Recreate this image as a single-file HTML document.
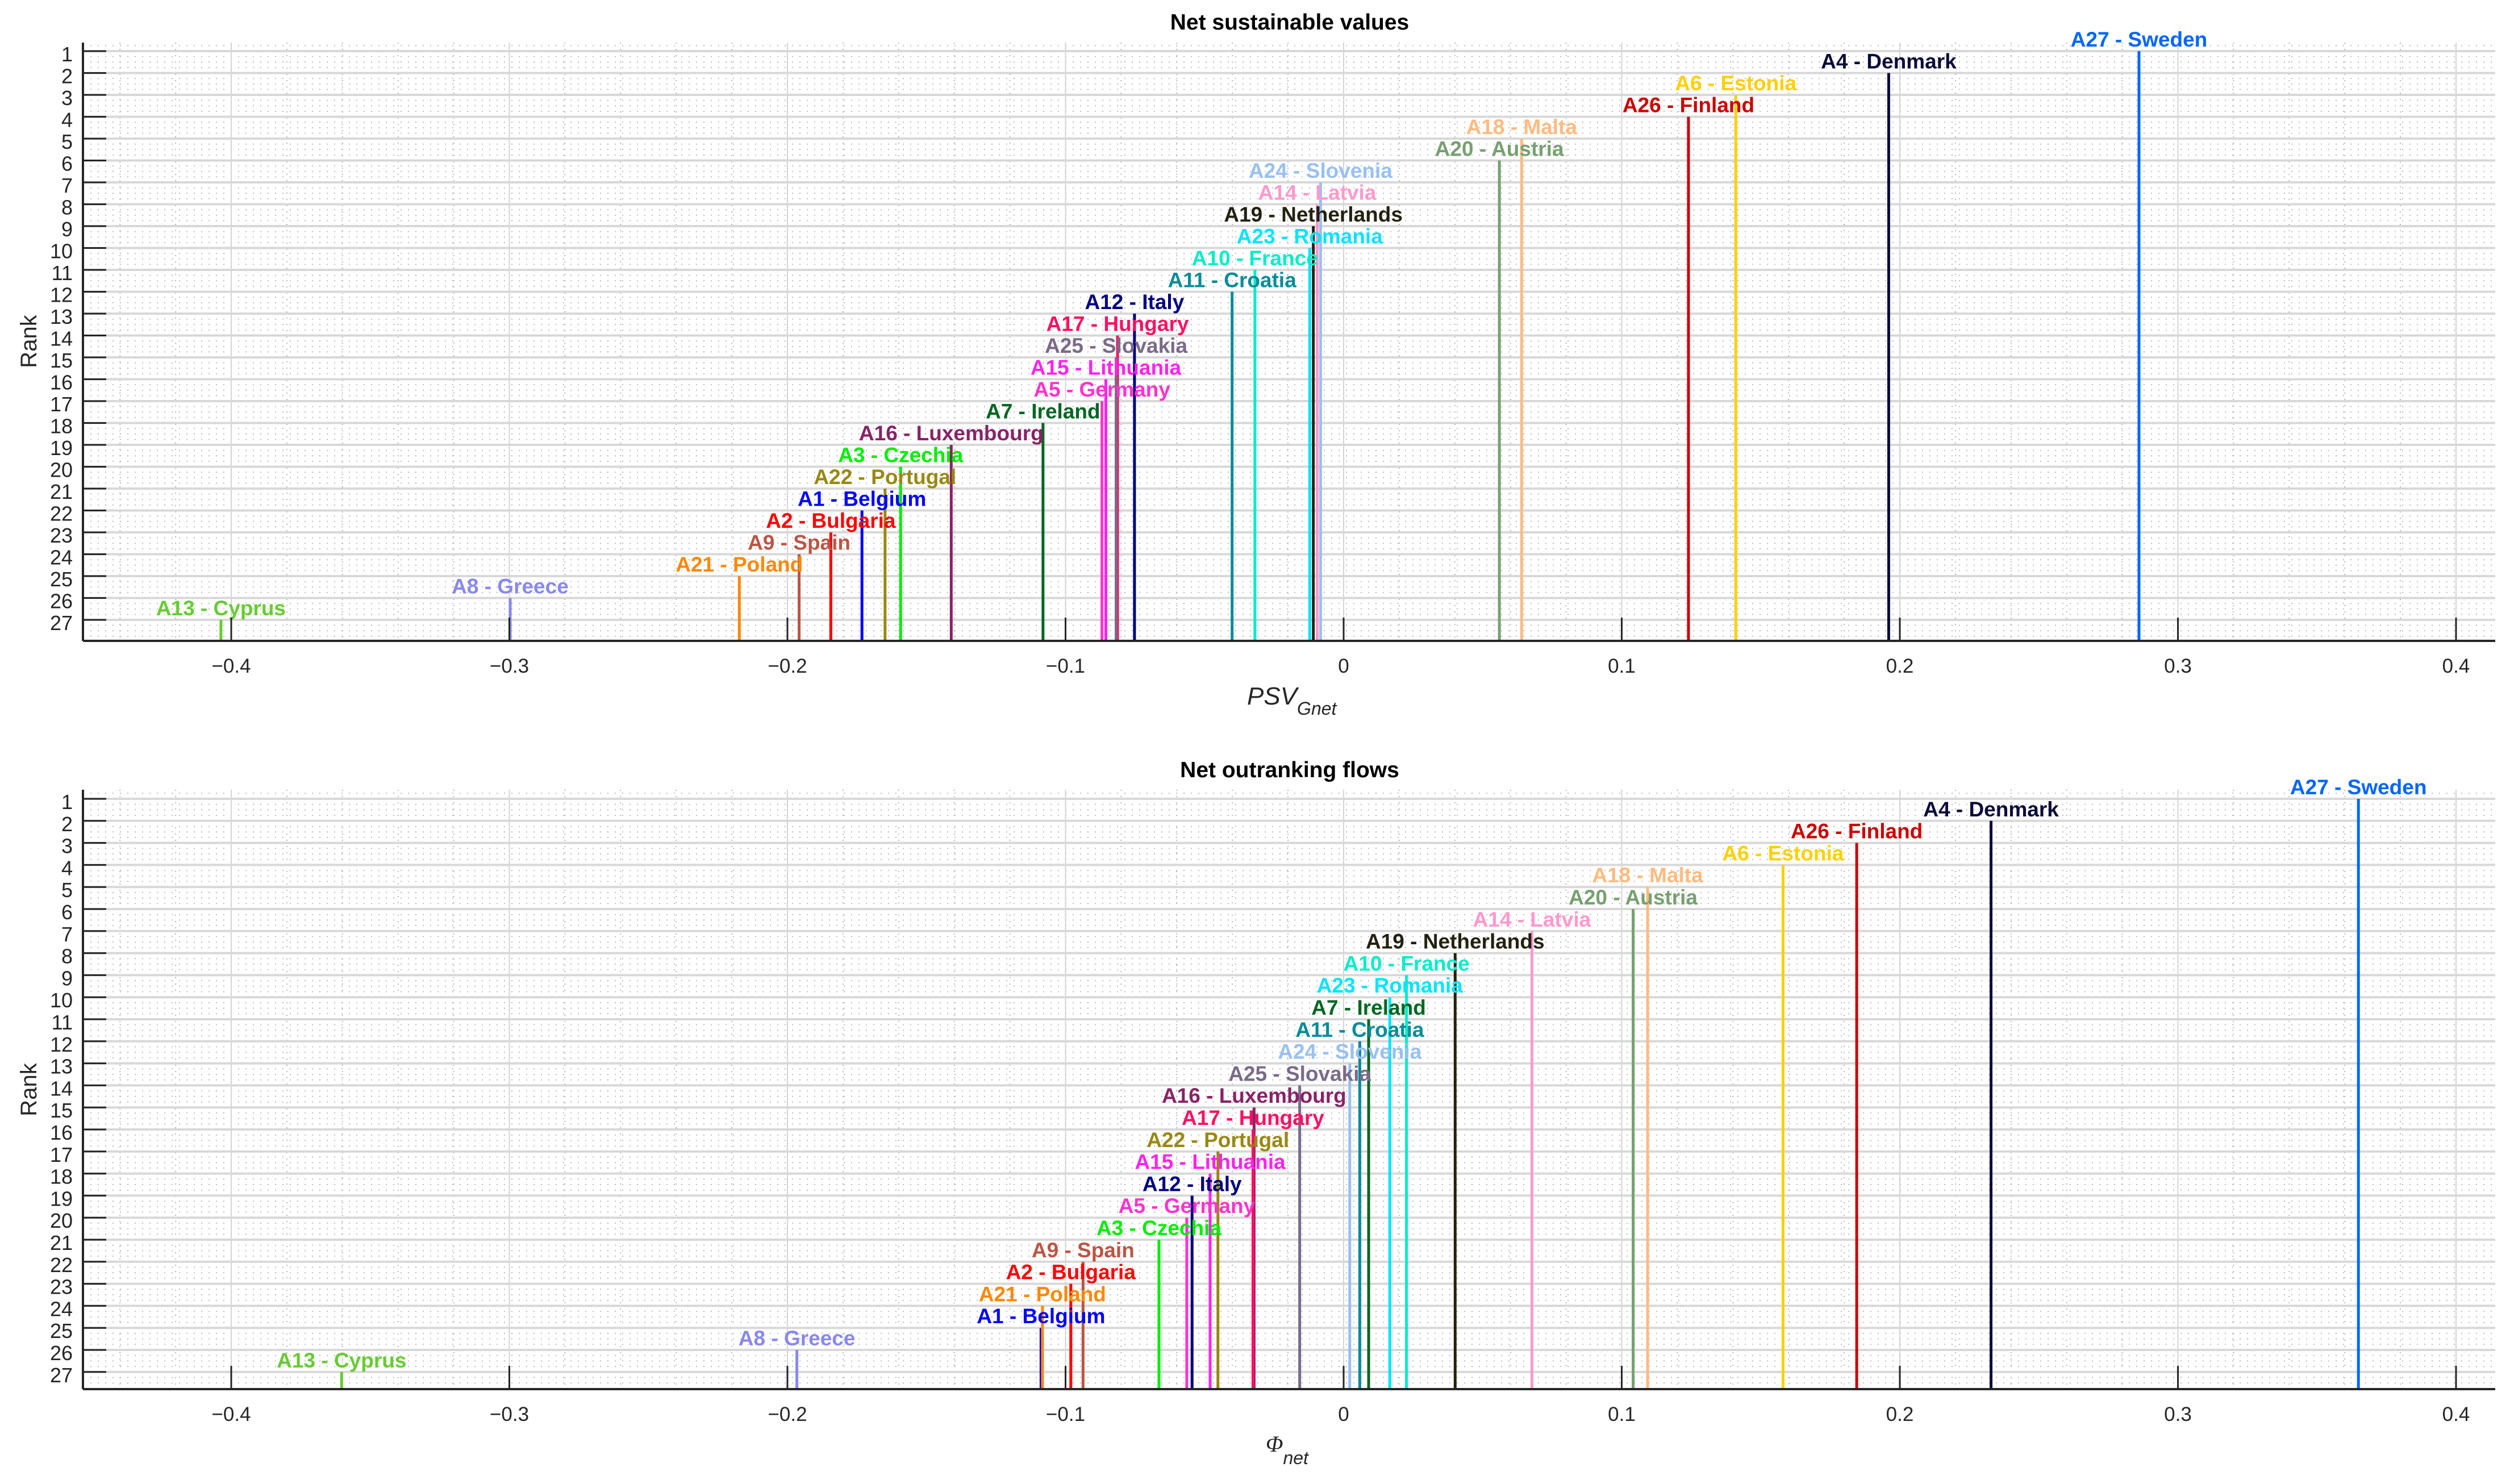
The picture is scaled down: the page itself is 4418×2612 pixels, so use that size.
<!DOCTYPE html>
<html><head><meta charset="utf-8"><style>
html,body{margin:0;padding:0;background:#fff;}
svg{display:block;font-family:"Liberation Sans",Arial,sans-serif;}
</style></head><body>
<svg id="chart" width="4418" height="2612" viewBox="0 0 4418 2612" xmlns="http://www.w3.org/2000/svg">
<rect x="0" y="0" width="4418" height="2612" fill="#ffffff"/>
<text x="2270" y="52" text-anchor="middle" font-size="39" font-weight="bold" fill="#000">Net sustainable values</text>
<text x="2270" y="1368" text-anchor="middle" font-size="39" font-weight="bold" fill="#000">Net outranking flows</text>
<text x="2195" y="1240" font-size="44" font-style="italic" fill="#262626">PSV<tspan font-size="32" dy="18">Gnet</tspan></text>
<text x="2228" y="2555" font-size="40" font-style="italic" fill="#262626" font-family="Liberation Serif, serif">Φ<tspan font-size="32" dy="22" font-family="Liberation Sans, sans-serif">net</tspan></text>
<text transform="translate(64,601) rotate(-90)" text-anchor="middle" font-size="40" fill="#262626">Rank</text>
<text transform="translate(64,1918) rotate(-90)" text-anchor="middle" font-size="40" fill="#262626">Rank</text>
</svg>
<script>
// ---- data ----
const xTicks = [-0.4, -0.3, -0.2, -0.1, 0, 0.1, 0.2, 0.3, 0.4];
const xTickLabels = ['\u22120.4', '\u22120.3', '\u22120.2', '\u22120.1', '0', '0.1', '0.2', '0.3', '0.4'];
const rankTicks = [1,2,3,4,5,6,7,8,9,10,11,12,13,14,15,16,17,18,19,20,21,22,23,24,25,26,27];

const topNames = ['A27 - Sweden','A4 - Denmark','A6 - Estonia','A26 - Finland','A18 - Malta','A20 - Austria','A24 - Slovenia','A14 - Latvia','A19 - Netherlands','A23 - Romania','A10 - France','A11 - Croatia','A12 - Italy','A17 - Hungary','A25 - Slovakia','A15 - Lithuania','A5 - Germany','A7 - Ireland','A16 - Luxembourg','A3 - Czechia','A22 - Portugal','A1 - Belgium','A2 - Bulgaria','A9 - Spain','A21 - Poland','A8 - Greece','A13 - Cyprus'];
const topRanks = [1,2,3,4,5,6,7,8,9,10,11,12,13,14,15,16,17,18,19,20,21,22,23,24,25,26,27];
const topValues = [0.286,0.196,0.141,0.124,0.064,0.056,-0.0083,-0.0095,-0.0109,-0.0122,-0.0319,-0.0401,-0.0752,-0.0813,-0.0818,-0.0855,-0.0869,-0.1081,-0.1411,-0.1593,-0.1649,-0.1732,-0.1844,-0.1958,-0.2173,-0.2997,-0.4037];

const botNames = ['A27 - Sweden','A4 - Denmark','A26 - Finland','A6 - Estonia','A18 - Malta','A20 - Austria','A14 - Latvia','A19 - Netherlands','A10 - France','A23 - Romania','A7 - Ireland','A11 - Croatia','A24 - Slovenia','A25 - Slovakia','A16 - Luxembourg','A17 - Hungary','A22 - Portugal','A15 - Lithuania','A12 - Italy','A5 - Germany','A3 - Czechia','A9 - Spain','A2 - Bulgaria','A21 - Poland','A1 - Belgium','A8 - Greece','A13 - Cyprus'];
const botRanks = [1,2,3,4,5,6,7,8,9,10,11,12,13,14,15,16,17,18,19,20,21,22,23,24,25,26,27];
const botValues = [0.3649,0.2328,0.1845,0.158,0.1093,0.1041,0.0677,0.0401,0.0226,0.0166,0.009,0.0058,0.0022,-0.0158,-0.0322,-0.0326,-0.0452,-0.048,-0.0545,-0.0564,-0.0664,-0.0937,-0.0981,-0.1083,-0.1088,-0.1966,-0.3603];

const colorMap = {
 'A27':'#0066ff','A4':'#0b0b3b','A6':'#ffd000','A26':'#cc0000','A18':'#ffbb80','A20':'#77a070',
 'A24':'#99c0f0','A14':'#ff99cc','A19':'#22220f','A23':'#00e5ff','A10':'#00eec8','A11':'#008c99',
 'A12':'#000080','A17':'#ff1060','A25':'#7a6a88','A15':'#ff22ee','A5':'#ff33cc','A7':'#006622',
 'A16':'#882266','A3':'#00ee00','A22':'#998811','A1':'#0000ff','A2':'#ff0000','A9':'#bb5544',
 'A21':'#ff8800','A8':'#8888ee','A13':'#66cc33'};

// ---- layout ----
const NS = 'http://www.w3.org/2000/svg';
const svg = document.getElementById('chart');
const X0 = 2365, XU = 4895, LEFT = 146, RIGHT = 4392;
function xs(v){ return X0 + v * XU; }
function mk(tag, attrs, parent){
  const e = document.createElementNS(NS, tag);
  for (const k in attrs) e.setAttribute(k, attrs[k]);
  (parent || svg).appendChild(e);
  return e;
}
function aNum(n){ return parseInt(n.split(' ')[0].slice(1), 10); }

function drawPanel(prefix, top, bottom, y1, step, names, ranks, values){
  const ys = r => y1 + (r - 1) * step;
  const g = mk('g', {});
  
  
  const grid = mk('g', {}, g);
  
  
  for (let i = -46; i <= 42; i += 2) {
    if (i % 10 === 0) continue;
    const x = xs(i / 100);
    if (x < LEFT || x > RIGHT) continue;
    const l = mk('line', {x1:x, x2:x, y1:top, y2:bottom, stroke:'#b8b8b8', 'stroke-width':2, 'stroke-dasharray':'2 9'}, grid);
    
    
  }
  for (let r = 0.5; r <= 28; r += 0.25) {
    if (Math.abs(r - Math.round(r)) < 0.01) continue;
    const y = ys(r);
    if (y < top || y > bottom) continue;
    const l = mk('line', {x1:LEFT, x2:RIGHT, y1:y, y2:y, stroke:'#bcbcbc', 'stroke-width':2, 'stroke-dasharray':'2 11'}, grid);
    
    
  }
  xTicks.forEach(t => {
    const l = mk('line', {x1:xs(t), x2:xs(t), y1:top, y2:bottom, stroke:'#d4d4d4', 'stroke-width':2}, grid);
    
    
  });
  rankTicks.forEach(r => {
    const l = mk('line', {x1:LEFT, x2:RIGHT, y1:ys(r), y2:ys(r), stroke:'#d8d8d8', 'stroke-width':4}, grid);
    
    
  });
  const order = names.map((n, i) => i).sort((a, b) => aNum(names[a]) - aNum(names[b]));
  order.forEach(i => {
    const n = names[i];
    const col = colorMap[n.split(' ')[0]];
    const x = xs(values[i]);
    const l = mk('line', {x1:x, x2:x, y1:ys(ranks[i]), y2:bottom, stroke:col, 'stroke-width':5}, g);
    
    
  });
  order.forEach(i => {
    const n = names[i];
    const col = colorMap[n.split(' ')[0]];
    const t = mk('text', {x:xs(values[i]), y:ys(ranks[i]) - 8, 'text-anchor':'middle', 'font-size':37, 'font-weight':'bold', fill:col}, g);
    t.textContent = n;
    
    
  });
  const ax = mk('line', {x1:LEFT, x2:RIGHT, y1:bottom, y2:bottom, stroke:'#262626', 'stroke-width':4}, g);
  
  
  const ay = mk('line', {x1:LEFT, x2:LEFT, y1:top, y2:bottom, stroke:'#262626', 'stroke-width':4}, g);
  
  
  xTicks.forEach((t, i) => {
    const tk = mk('line', {x1:xs(t), x2:xs(t), y1:bottom, y2:bottom - 41, stroke:'#262626', 'stroke-width':3}, g);
    
    
    const tl = mk('text', {x:xs(t), y:bottom + 56, 'text-anchor':'middle', 'font-size':35, fill:'#262626'}, g);
    tl.textContent = xTickLabels[i];
    
    
  });
  rankTicks.forEach(r => {
    const tk = mk('line', {x1:LEFT, x2:LEFT + 41, y1:ys(r), y2:ys(r), stroke:'#262626', 'stroke-width':3}, g);
    
    
    const tl = mk('text', {x:128, y:ys(r) + 18, 'text-anchor':'end', 'font-size':36, fill:'#262626'}, g);
    tl.textContent = String(r);
    
    
  });
}
drawPanel('top', 75, 1128, 90, 38.5, topNames, topRanks, topValues);
drawPanel('bottom', 1390, 2445, 1406, 38.8, botNames, botRanks, botValues);
</script>
</body></html>
